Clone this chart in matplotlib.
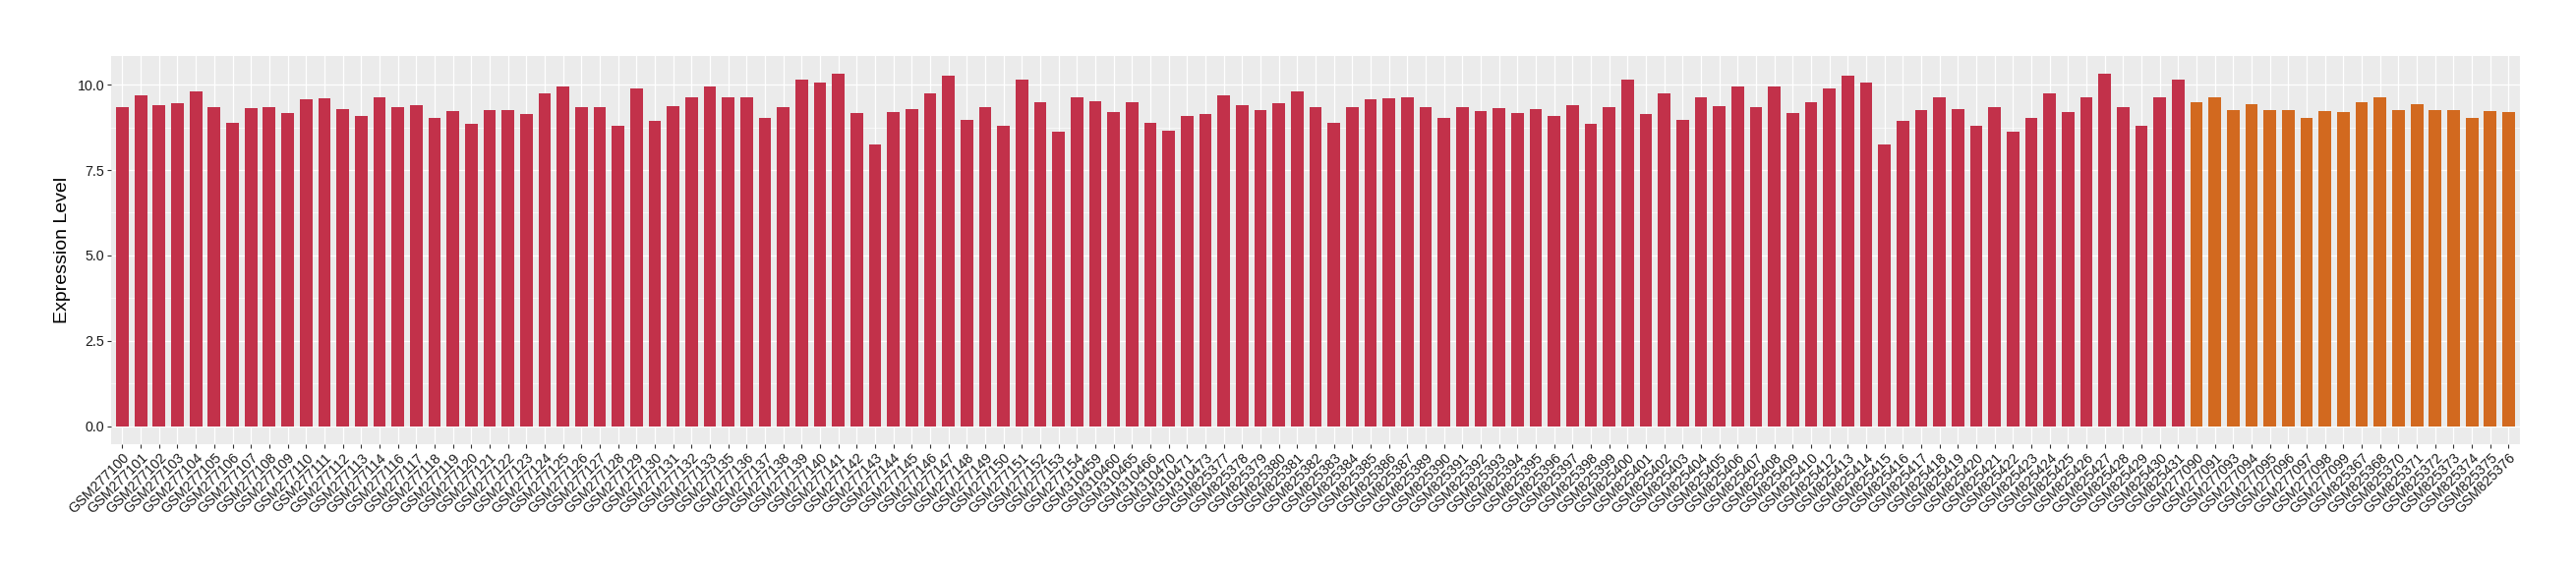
import matplotlib
matplotlib.use("Agg")
import matplotlib.pyplot as plt
import numpy as np
from matplotlib.ticker import MultipleLocator

plt.rcParams['font.family'] = ['Liberation Sans', 'DejaVu Sans']

red_labels = [
    "GSM277100", "GSM277101", "GSM277102", "GSM277103", "GSM277104", "GSM277105", "GSM277106",
    "GSM277107", "GSM277108", "GSM277109", "GSM277110", "GSM277111", "GSM277112", "GSM277113",
    "GSM277114", "GSM277116", "GSM277117", "GSM277118", "GSM277119", "GSM277120", "GSM277121",
    "GSM277122", "GSM277123", "GSM277124", "GSM277125", "GSM277126", "GSM277127", "GSM277128",
    "GSM277129", "GSM277130", "GSM277131", "GSM277132", "GSM277133", "GSM277135", "GSM277136",
    "GSM277137", "GSM277138", "GSM277139", "GSM277140", "GSM277141", "GSM277142", "GSM277143",
    "GSM277144", "GSM277145", "GSM277146", "GSM277147", "GSM277148", "GSM277149", "GSM277150",
    "GSM277151", "GSM277152", "GSM277153", "GSM277154",
    "GSM310459", "GSM310460", "GSM310465", "GSM310466", "GSM310470", "GSM310471", "GSM310473",
    "GSM825377", "GSM825378", "GSM825379", "GSM825380", "GSM825381", "GSM825382", "GSM825383",
    "GSM825384", "GSM825385", "GSM825386", "GSM825387", "GSM825389", "GSM825390", "GSM825391",
    "GSM825392", "GSM825393", "GSM825394", "GSM825395", "GSM825396", "GSM825397", "GSM825398",
    "GSM825399", "GSM825400", "GSM825401", "GSM825402", "GSM825403", "GSM825404", "GSM825405",
    "GSM825406", "GSM825407", "GSM825408", "GSM825409", "GSM825410", "GSM825412", "GSM825413",
    "GSM825414", "GSM825415", "GSM825416", "GSM825417", "GSM825418", "GSM825419", "GSM825420",
    "GSM825421", "GSM825422", "GSM825423", "GSM825424", "GSM825425", "GSM825426", "GSM825427",
    "GSM825428", "GSM825429", "GSM825430", "GSM825431",
]
red_values = [
    9.35, 9.69, 9.40, 9.46, 9.81, 9.35, 8.89,
    9.32, 9.35, 9.17, 9.58, 9.61, 9.29, 9.09,
    9.64, 9.35, 9.40, 9.03, 9.23, 8.86, 9.26,
    9.26, 9.15, 9.75, 9.95, 9.35, 9.35, 8.80,
    9.89, 8.94, 9.38, 9.64, 9.95, 9.64, 9.64,
    9.03, 9.35, 10.15, 10.07, 10.33, 9.17, 8.25,
    9.20, 9.29, 9.75, 10.27, 8.97, 9.35, 8.80,
    10.15, 9.49, 8.63, 9.64,
    9.52, 9.20, 9.49, 8.89, 8.66, 9.09, 9.15,
    9.69, 9.40, 9.26, 9.46, 9.81, 9.35, 8.89,
    9.35, 9.58, 9.61, 9.64, 9.35, 9.03, 9.35,
    9.23, 9.32, 9.17, 9.29, 9.09, 9.40, 8.86,
    9.35, 10.15, 9.15, 9.75, 8.97, 9.64, 9.38,
    9.95, 9.35, 9.95, 9.17, 9.49, 9.89, 10.27,
    10.07, 8.25, 8.94, 9.26, 9.64, 9.29, 8.80,
    9.35, 8.63, 9.03, 9.75, 9.20, 9.64, 10.33,
    9.35, 8.80, 9.64, 10.15,
]
orange_labels = [
    "GSM277090", "GSM277091", "GSM277093", "GSM277094", "GSM277095", "GSM277096", "GSM277097",
    "GSM277098", "GSM277099", "GSM825367", "GSM825368", "GSM825370", "GSM825371", "GSM825372",
    "GSM825373", "GSM825374", "GSM825375", "GSM825376",
]
orange_values = [
    9.49, 9.64, 9.26, 9.44, 9.26, 9.26, 9.03,
    9.23, 9.20, 9.49, 9.64, 9.26, 9.44, 9.26,
    9.26, 9.03, 9.23, 9.20,
]

red_color = "#C2314A"
orange_color = "#D2691F"

labels = red_labels + orange_labels
values = red_values + orange_values
colors = [red_color] * len(red_values) + [orange_color] * len(orange_values)
n = len(labels)
x = np.arange(n)

fig = plt.figure(figsize=(26.2, 5.8), dpi=100)
ax = fig.add_axes([0.04324, 0.2212, 0.97813 - 0.04324, 0.9022 - 0.2212])
ax.set_facecolor("#EBEBEB")

ax.bar(x, values, width=0.68, color=colors, zorder=3)

vmax = max(values)
ax.set_xlim(-0.6, n - 1 + 0.6)
ax.set_ylim(-0.05 * vmax, vmax * 1.05)

ax.yaxis.set_major_locator(MultipleLocator(2.5))
ax.yaxis.set_minor_locator(MultipleLocator(1.25))
ax.set_xticks(x)
ax.set_xticklabels(labels, rotation=45, ha='right', va='top', rotation_mode='anchor',
                   fontsize=10.3, color="#1a1a1a")
ax.yaxis.set_major_formatter(matplotlib.ticker.FormatStrFormatter('%.1f'))
for lab in ax.get_yticklabels():
    lab.set_fontsize(10.3)
    lab.set_color("#1a1a1a")

ax.grid(which='major', axis='both', color='white', linewidth=0.9, zorder=0)
ax.grid(which='minor', axis='y', color='white', linewidth=0.45, zorder=0)
ax.set_axisbelow(True)
for s in ax.spines.values():
    s.set_visible(False)
ax.tick_params(axis='both', which='major', length=3, width=0.8, color="#333333", pad=2)
ax.tick_params(axis='y', which='minor', length=0)
ax.tick_params(axis='y', labelsize=10.3)

ax.set_ylabel("Expression Level", fontsize=14, labelpad=5)

fig.savefig("out.png", dpi=100)
